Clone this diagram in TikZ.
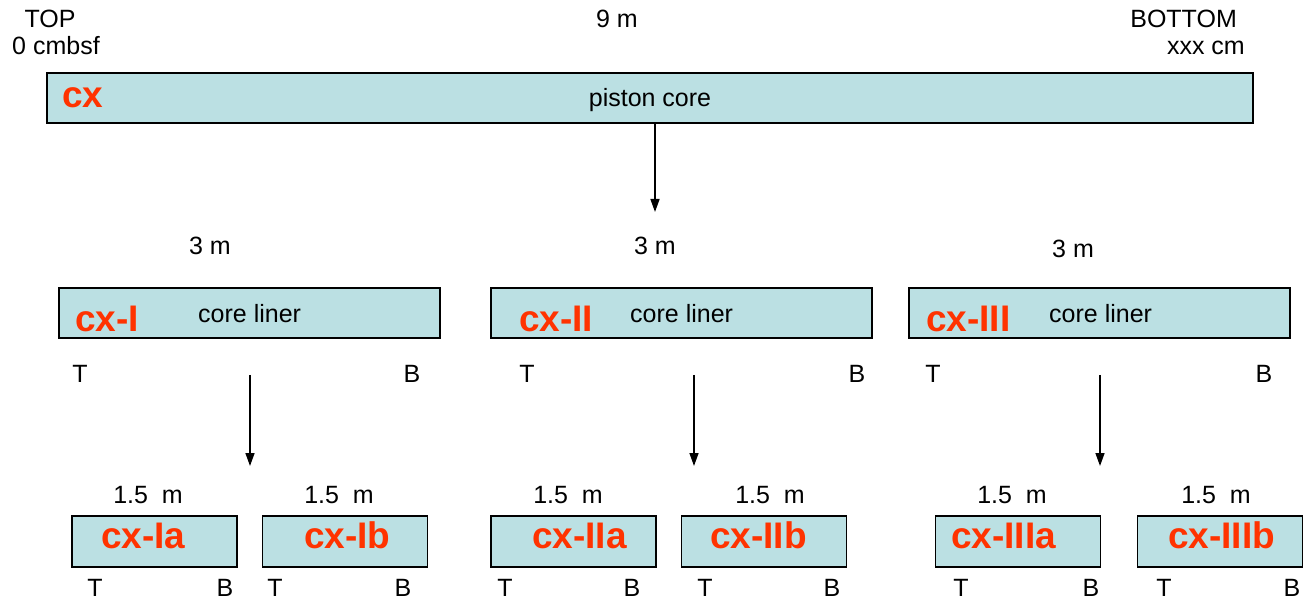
\documentclass[tikz,border=0pt]{standalone}
\usepackage{fontspec}
\setmainfont{Liberation Sans}
\usetikzlibrary{arrows.meta}
\definecolor{boxfill}{RGB}{187,224,227}
\definecolor{cxred}{RGB}{255,51,0}
\begin{document}
\begin{tikzpicture}[x=1pt,y=-1pt,
  lbl/.style={font=\fontsize{25}{30}\selectfont, inner sep=0pt, anchor=base},
  cxlbl/.style={font=\fontsize{37}{40}\selectfont\bfseries, text=cxred, inner sep=0pt, anchor=base west},
  boxnode/.style={draw=black, line width=1.5pt, fill=boxfill, inner sep=0pt, minimum height=50pt},
  arr/.style={line width=1.5pt, -{Triangle[length=13pt,width=9pt]}}]
\useasboundingbox (0,0) rectangle (1309,601);
% top labels
\node[lbl] (topl) at (50,28) {TOP};
\node[lbl] (topd) at (56,55) {0 cmbsf};
\node[lbl] (nine) at (617,28) {9 m};
\node[lbl, anchor=base east] (botl) at (1237,28) {BOTTOM};
\node[lbl, anchor=base east] (botd) at (1245,55) {xxx cm};
% piston core
\node[boxnode, minimum width=1206pt] (top) at (650,98) {};
\node[cxlbl] (cx) at (62,108) {cx};
\node[lbl] (piston) at (650,107) {piston core};
\coordinate (a0e) at (655,212);
\draw[arr] (top.south -| a0e) -- (a0e);
% middle row
\foreach \n/\cx/\lx/\ly/\bl/\ll/\tx/\bx/\ax in
  {I/249.5/210/255/75/198/80/412/250,
   II/681.5/655/255/519/630/527/857/694,
   III/1099.5/1073/258/926/1049/933/1264/1100}{
  \node[lbl] (len\n) at (\lx,\ly) {3 m};
  \node[boxnode, minimum width=381pt] (liner\n) at (\cx,313) {};
  \node[cxlbl] (cx\n) at (\bl,332) {cx-\n};
  \node[lbl, anchor=base west] (cl\n) at (\ll,323) {core liner};
  \node[lbl] (T\n) at (\tx,383) {T};
  \node[lbl] (B\n) at (\bx,383) {B};
  \coordinate (s\n) at (\ax,375);
  \coordinate (e\n) at (\ax,466);
  \draw[arr] (s\n) -- (e\n);
}
% bottom row
\foreach \n/\cx/\lx/\bl/\tx/\bx in
  {Ia/154.5/148/101/95/225,
   Ib/345/339/304/275/403,
   IIa/573.5/568/532/505/632,
   IIb/764/770/710/705/832,
   IIIa/1018/1012/951/961/1091,
   IIIb/1220/1216/1168/1164/1292}{
  \node[lbl] (len\n) at (\lx,503) {1.5\ \ m};
  \node[boxnode, minimum width=165pt, minimum height=51pt] (sec\n) at (\cx,541.5) {};
  \node[cxlbl] (cx\n) at (\bl,548) {cx-\n};
  \node[lbl] (T\n) at (\tx,596) {T};
  \node[lbl] (B\n) at (\bx,596) {B};
}
\end{tikzpicture}
\end{document}
